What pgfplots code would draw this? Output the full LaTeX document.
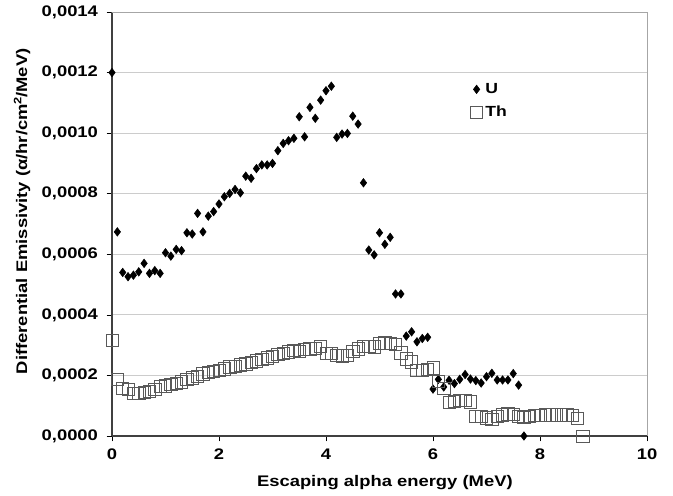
\documentclass[border=0pt]{standalone}
\usepackage{pgfplots}
\pgfplotsset{compat=1.18}
\usepackage{pgfplotstable}
\usepackage{fontspec}
\setmainfont{Liberation Sans}[FakeStretch=1.2]
\pgfplotstableread{
x y
0.0 12.0
0.1 6.74
0.2 5.40
0.3 5.26
0.4 5.31
0.5 5.42
0.6 5.70
0.7 5.37
0.8 5.46
0.9 5.37
1.0 6.05
1.1 5.94
1.2 6.16
1.3 6.12
1.4 6.71
1.5 6.67
1.6 7.35
1.7 6.74
1.8 7.26
1.9 7.41
2.0 7.66
2.1 7.90
2.2 8.01
2.3 8.14
2.4 8.03
2.5 8.58
2.6 8.51
2.7 8.83
2.8 8.95
2.9 8.95
3.0 9.00
3.1 9.42
3.2 9.66
3.3 9.75
3.4 9.83
3.5 10.54
3.6 9.88
3.7 10.85
3.8 10.49
3.9 11.09
4.0 11.40
4.1 11.55
4.2 9.86
4.3 9.97
4.4 9.99
4.5 10.56
4.6 10.30
4.7 8.36
4.8 6.14
4.9 5.98
5.0 6.71
5.1 6.33
5.2 6.56
5.3 4.69
5.4 4.69
5.5 3.30
5.6 3.44
5.7 3.11
5.8 3.22
5.9 3.26
6.0 1.55
6.1 1.87
6.2 1.62
6.3 1.84
6.4 1.73
6.5 1.87
6.6 2.03
6.7 1.88
6.8 1.83
6.9 1.75
7.0 1.96
7.1 2.07
7.2 1.85
7.3 1.85
7.4 1.85
7.5 2.06
7.6 1.68
7.7 0.0
}\Udata
\pgfplotstableread{
x y
0.0 3.15
0.1 1.87
0.2 1.58
0.3 1.55
0.4 1.42
0.5 1.40
0.6 1.45
0.7 1.47
0.8 1.55
0.9 1.63
1.0 1.66
1.1 1.70
1.2 1.74
1.3 1.79
1.4 1.86
1.5 1.92
1.6 1.98
1.7 2.05
1.8 2.10
1.9 2.13
2.0 2.17
2.1 2.22
2.2 2.28
2.3 2.30
2.4 2.35
2.5 2.38
2.6 2.44
2.7 2.48
2.8 2.53
2.9 2.58
3.0 2.64
3.1 2.70
3.2 2.73
3.3 2.78
3.4 2.82
3.5 2.80
3.6 2.86
3.7 2.88
3.8 2.90
3.9 2.95
4.0 2.72
4.1 2.72
4.2 2.67
4.3 2.65
4.4 2.66
4.5 2.80
4.6 2.88
4.7 2.95
4.8 2.97
4.9 2.94
5.0 3.06
5.1 3.08
5.2 3.06
5.3 3.02
5.4 2.75
5.5 2.55
5.6 2.45
5.7 2.18
5.8 2.18
5.9 2.20
6.0 2.25
6.1 1.80
6.2 1.58
6.3 1.10
6.4 1.15
6.5 1.18
6.6 1.18
6.7 1.13
6.8 0.64
6.9 0.64
7.0 0.60
7.1 0.56
7.2 0.66
7.3 0.70
7.4 0.73
7.5 0.72
7.6 0.64
7.7 0.62
7.8 0.66
7.9 0.68
8.0 0.69
8.1 0.70
8.2 0.70
8.3 0.70
8.4 0.70
8.5 0.70
8.6 0.68
8.7 0.58
8.8 0.0
}\Thdata
\begin{document}
\begin{tikzpicture}
\begin{axis}[
  at={(0,0)}, anchor=south west,
  scale only axis,
  width=401.25pt, height=318pt,
  xmin=0, xmax=10, ymin=0, ymax=0.0014,
  xtick={0,2,...,10},
  ytick={0,0.0002,0.0004,0.0006,0.0008,0.0010,0.0012,0.0014},
  scaled y ticks=false,
  yticklabel style={xshift=-3pt, /pgf/number format/.cd, fixed, fixed zerofill, precision=4, use comma},
  xticklabel style={yshift=-2pt, /pgf/number format/.cd, fixed},
  /pgf/number format/assume math mode=true,
  ticklabel style={font=\bfseries\fontsize{11.5}{13}\selectfont},
  tick align=outside,
  tick style={black, thin},
  major tick length=4pt,
  ymajorgrids,
  grid style={gray!40, line width=0.6pt},
  axis x line*=bottom, axis y line*=left,
  axis line style={black!75, line width=0.8pt},
  x axis line style={-}, y axis line style={-},
  xlabel={Escaping alpha energy (MeV)},
  ylabel={Differential Emissivity (α/hr/cm$^{\mathbf{2}}$/MeV)},
  label style={font=\bfseries\fontsize{11.5}{14}\selectfont},
  xlabel style={at={(axis description cs:0.51,-0.11)}, anchor=center},
  ylabel style={at={(axis description cs:-0.168,0.53)}, anchor=center, rotate=0},
  legend style={draw=none, fill=none, at={(axis description cs:0.662,0.845)}, anchor=north west,
    font=\bfseries\fontsize{11}{13}\selectfont, row sep=4pt},
  legend cell align=left,
  clip=false,
  after end axis/.code={
    \draw[gray!70, line width=0.6pt] (rel axis cs:0,1) -- (rel axis cs:1,1) -- (rel axis cs:1,0);
  },
]
\addplot[only marks, mark=diamond*, mark size=3.2pt, mark options={fill=black, draw=black}]
  table[x=x, y expr=\thisrow{y}*1e-4] {\Udata};
\addlegendentry{U}
\addplot[only marks, mark=square, mark size=4.6pt, mark options={draw=black!65, line width=0.5pt, fill=none}]
  table[x=x, y expr=\thisrow{y}*1e-4] {\Thdata};
\addlegendentry{Th}
\end{axis}
\useasboundingbox (-84pt,-44.25pt) rectangle (420.75pt,327pt);
\end{tikzpicture}
\end{document}
